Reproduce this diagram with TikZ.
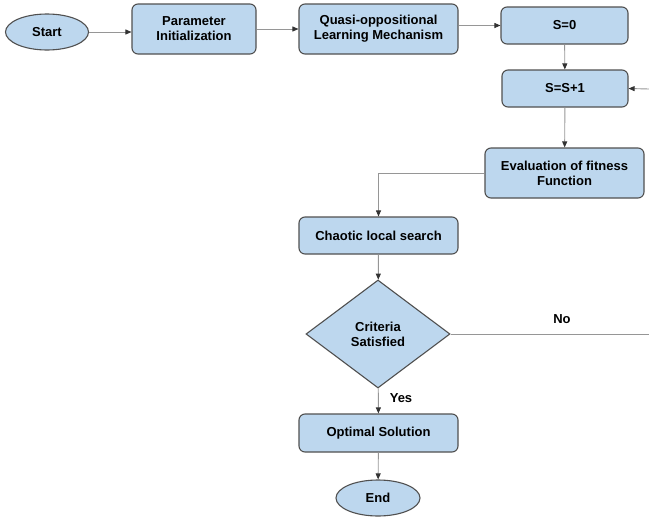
\documentclass[tikz,border=0pt]{standalone}
\usepackage{fontspec}
\setmainfont{Liberation Sans}
\usetikzlibrary{shapes.geometric,arrows.meta}
\definecolor{boxfill}{RGB}{189,215,238}
\definecolor{boxdraw}{RGB}{80,80,80}
\definecolor{linegray}{RGB}{150,150,150}
\tikzset{
  base/.style={draw=boxdraw,fill=boxfill,line width=1.1pt,font=\bfseries\fontsize{13}{15}\selectfont,align=center,inner sep=0pt},
  procbox/.style={base,rectangle,rounded corners=6pt},
  termin/.style={base,ellipse},
  decis/.style={base,diamond},
  conn/.style={draw=linegray,line width=0.9pt,-{Triangle[length=6pt,width=5pt,fill=black!80,color=black!80]}},
  plain/.style={draw=linegray,line width=0.9pt},
  lbl/.style={font=\bfseries\fontsize{13}{15}\selectfont,inner sep=0pt}
}
\begin{document}
\begin{tikzpicture}[x=1pt,y=-1pt]
\useasboundingbox (0,0) rectangle (649,517);
\node[termin,minimum width=83pt,minimum height=36pt] (start) at (47,32) {Start};
\node[procbox,minimum width=124pt,minimum height=50pt] (param) at (194,29) {Parameter\\Initialization};
\node[procbox,minimum width=159pt,minimum height=50pt] (quasi) at (378.5,29) {Quasi-oppositional\\Learning Mechanism};
\node[procbox,minimum width=127pt,minimum height=37pt] (s0) at (564.5,25.5) {S=0};
\node[procbox,minimum width=126pt,minimum height=37pt] (ss) at (565,88.5) {S=S+1};
\node[procbox,minimum width=159pt,minimum height=50pt] (eval) at (564.5,173) {Evaluation of fitness\\Function};
\node[procbox,minimum width=159pt,minimum height=37pt] (chaos) at (378.5,235.5) {Chaotic local search};
\node[decis,minimum width=144pt,minimum height=108pt,aspect=1.333] (crit) at (378,334) {Criteria\\Satisfied};
\node[procbox,minimum width=159pt,minimum height=38pt] (opt) at (378.5,433) {Optimal Solution};
\node[termin,minimum width=84pt,minimum height=36pt] (end) at (378,498) {End};
\coordinate (rtop) at (649,89);
\coordinate (rbot) at (649,334);
\draw[conn] (start.east) -- (param.west |- start.east);
\draw[conn] (param) -- (quasi);
\draw[conn] (quasi.east |- s0.west) -- (s0.west);
\draw[conn] (s0) -- (ss);
\draw[conn] (ss) -- (eval);
\draw[conn] (eval.west) -| (chaos.north);
\draw[conn] (chaos) -- (crit);
\draw[conn] (crit) -- (opt);
\draw[conn] (opt) -- (end);
\draw[plain] (crit.east) -- (rbot);
\draw[conn] (rtop) -- (ss.east);
\node[lbl] (yes) at (401,398) {Yes};
\node[lbl] (no) at (562,319) {No};
\end{tikzpicture}
\end{document}
